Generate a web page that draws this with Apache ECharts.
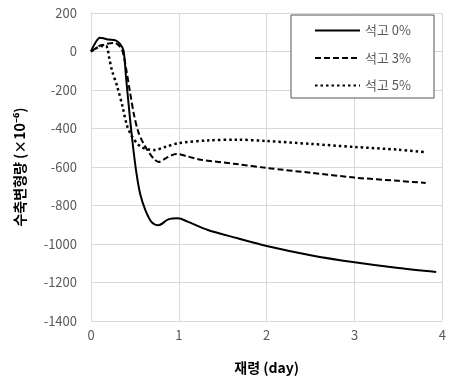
<!DOCTYPE html>
<html>
<head>
<meta charset="utf-8">
<script src="https://cdn.jsdelivr.net/npm/echarts@6/dist/echarts.min.js"></script>
<style>html,body{margin:0;padding:0;background:#fff;}#c{width:449px;height:385px;}</style>
</head>
<body>
<div id="c"></div>
<script>
var seriesNames = ['석고 0%', '석고 3%', '석고 5%'];
var xTicks = [0, 1, 2, 3, 4];
var yTicks = [200, 0, -200, -400, -600, -800, -1000, -1200, -1400];

var gypsum0 = [[0,0],[0.05,45],[0.1,72],[0.15,68],[0.2,62],[0.28,58],[0.33,40],[0.37,5],[0.40,-140],[0.44,-330],[0.48,-500],[0.52,-640],[0.56,-740],[0.62,-825],[0.69,-886],[0.77,-902],[0.88,-872],[0.99,-866],[1.1,-884],[1.33,-927],[1.66,-969],[2.0,-1010],[2.5,-1058],[3.0,-1095],[3.5,-1125],[3.93,-1145]];
var gypsum3 = [[0,0],[0.05,15],[0.1,30],[0.15,35],[0.2,42],[0.27,45],[0.32,30],[0.36,0],[0.40,-90],[0.44,-200],[0.49,-330],[0.54,-420],[0.6,-480],[0.66,-525],[0.72,-560],[0.77,-574],[0.85,-555],[0.97,-532],[1.1,-545],[1.25,-562],[1.66,-585],[2.0,-605],[2.5,-630],[3.0,-655],[3.5,-672],[3.81,-683]];
var gypsum5 = [[0,0],[0.04,12],[0.08,22],[0.12,28],[0.17,30],[0.19,10],[0.21,-40],[0.24,-100],[0.3,-184],[0.36,-288],[0.41,-385],[0.47,-444],[0.53,-480],[0.58,-498],[0.65,-508],[0.72,-512],[0.85,-495],[1.0,-476],[1.33,-462],[1.66,-458],[2.0,-465],[2.5,-480],[3.0,-496],[3.5,-510],[3.79,-522]];

var font = "'Noto Sans CJK KR', 'Noto Sans', sans-serif";
var chart = echarts.init(document.getElementById('c'));
chart.setOption({
  animation: false,
  backgroundColor: '#fff',
  grid: { left: 91, top: 13, right: 0, bottom: 64, containLabel: false },
  legend: {
    orient: 'vertical',
    left: 291, top: 15,
    padding: [9, 23, 6, 23],
    itemWidth: 45, itemHeight: 14, itemGap: 14.5,
    backgroundColor: '#fff',
    borderColor: '#555', borderWidth: 1,
    itemStyle: { opacity: 0 },
    textStyle: { color: '#595959', fontSize: 13, fontFamily: font },
    data: seriesNames
  },
  xAxis: {
    type: 'value',
    min: xTicks[0], max: xTicks[xTicks.length - 1], interval: 1,
    name: '재령 (day)', nameLocation: 'middle', nameGap: 40,
    nameTextStyle: { color: '#000', fontSize: 14, fontWeight: 'bold', fontFamily: font },
    axisLine: { show: true, lineStyle: { color: '#d9d9d9' } },
    axisTick: { show: false },
    axisLabel: { color: '#595959', fontSize: 13, margin: 8, fontFamily: font, formatter: function (v) { return String(v); } },
    splitLine: { show: true, lineStyle: { color: '#d9d9d9' } }
  },
  yAxis: {
    type: 'value',
    min: yTicks[yTicks.length - 1], max: yTicks[0], interval: 200,
    name: '수축변형량 (×10⁻⁶)', nameLocation: 'middle', nameGap: 64,
    nameTextStyle: { color: '#000', fontSize: 14, fontWeight: 'bold', fontFamily: font },
    axisLine: { show: true, lineStyle: { color: '#d9d9d9' } },
    axisTick: { show: false },
    axisLabel: { color: '#595959', fontSize: 13, margin: 14, fontFamily: font, formatter: function (v) { return String(v); } },
    splitLine: { show: true, lineStyle: { color: '#d9d9d9' } }
  },
  series: [
    { name: seriesNames[0], type: 'line', data: gypsum0, smooth: 0.3, symbol: 'none', color: '#000',
      lineStyle: { color: '#000', width: 2, type: 'solid' } },
    { name: seriesNames[1], type: 'line', data: gypsum3, smooth: 0.3, symbol: 'none', color: '#000',
      lineStyle: { color: '#000', width: 2, type: [6, 3] } },
    { name: seriesNames[2], type: 'line', data: gypsum5, smooth: 0.3, symbol: 'none', color: '#000',
      lineStyle: { color: '#000', width: 2.5, type: [2.5, 3] } }
  ]
});
</script>
</body>
</html>
